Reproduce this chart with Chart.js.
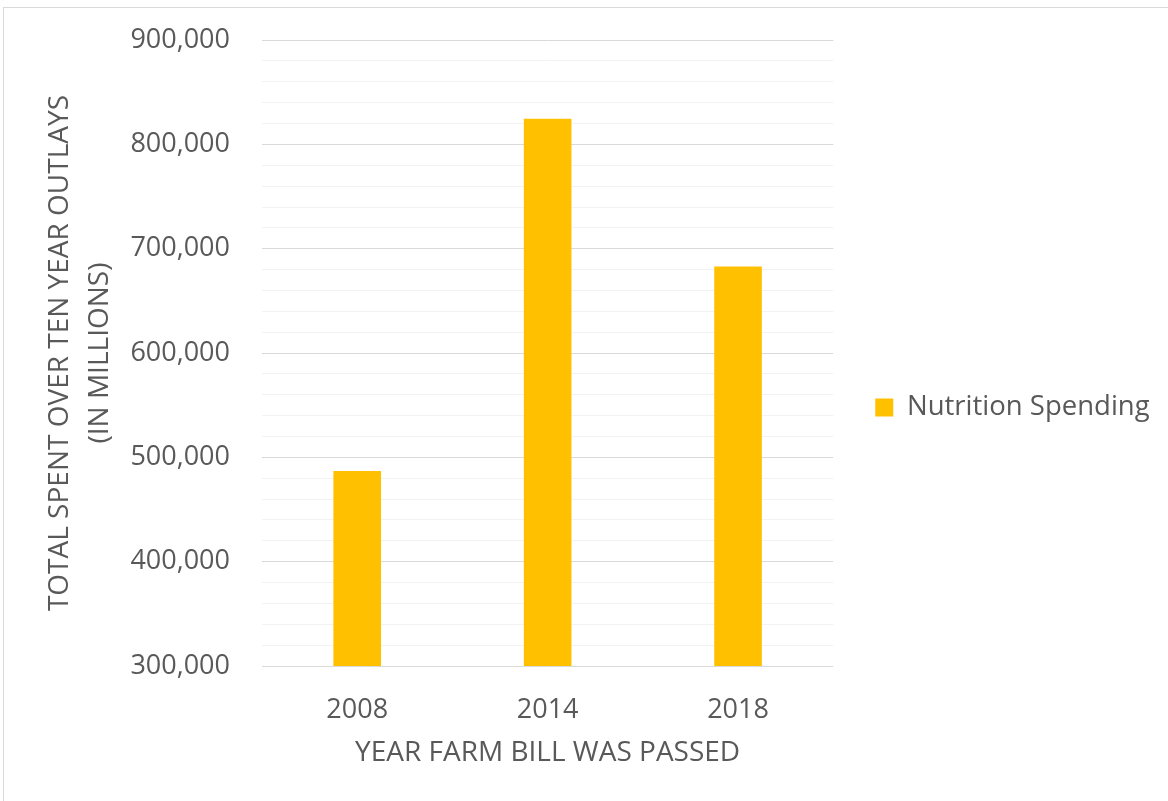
<!DOCTYPE html>
<html>
<head>
<meta charset="utf-8">
<script src="https://cdn.jsdelivr.net/npm/chart.js@4/dist/chart.umd.min.js"></script>
<style>
  html, body { margin: 0; padding: 0; background: #fff; overflow: hidden; }
  #frame { position: absolute; left: 3px; top: 7px; width: 1200px; height: 820px;
           border-top: 1px solid #d9d9d9; border-left: 1px solid #d9d9d9; }
  #wrap { position: absolute; left: 0; top: 0; width: 1168px; height: 801px; }
</style>
</head>
<body>
<div id="frame"></div>
<div id="wrap"><canvas id="myChart"></canvas></div>
<script>
const years = ['2008', '2014', '2018']
const nutritionSpending = [487000, 824500, 683000]
const yMin = 300000
const yMax = 900000
const minorStep = 20000
const majorStep = 100000

const textColor = '#595959'
const fontFamily = '"Open Sans", sans-serif'

// the right legend is capped in width, so push it over after layout
// to leave a wider gap between the plot and the legend entry
const legendOffset = {
  id: 'legendOffset',
  afterLayout(chart) {
    const legend = chart.legend
    if (!legend) return
    const dx = 38
    legend.left += dx
    legend.right += dx
    legend.top -= 2
    legend.bottom -= 2
  }
}

const ctx = document.getElementById('myChart').getContext('2d')
new Chart(ctx, {
  type: 'bar',
  data: {
    labels: years,
    datasets: [{
      label: 'Nutrition Spending',
      data: nutritionSpending,
      backgroundColor: '#ffc000',
      borderWidth: 0,
      barPercentage: 0.25,
      categoryPercentage: 1
    }]
  },
  options: {
    responsive: true,
    maintainAspectRatio: false,
    animation: false,
    events: [],
    layout: {
      padding: { top: 40, right: 57, bottom: 22, left: 0 }
    },
    scales: {
      x: {
        grid: { display: false },
        border: { display: false },
        ticks: {
          color: textColor,
          font: { family: fontFamily, size: 27 },
          padding: 20
        },
        title: {
          display: true,
          text: 'YEAR FARM BILL WAS PASSED',
          color: textColor,
          font: { family: fontFamily, size: 28 },
          padding: { top: 0, bottom: 9 }
        },
        afterFit: scale => { scale.height = 113 }
      },
      y: {
        min: yMin,
        max: yMax,
        border: { display: false },
        grid: {
          drawTicks: false,
          lineWidth: 1,
          color: c => (c.tick && c.tick.value % majorStep === 0) ? '#d9d9d9' : '#f2f2f2'
        },
        ticks: {
          stepSize: minorStep,
          autoSkip: false,
          color: textColor,
          font: { family: fontFamily, size: 27, lineHeight: 0.6 },
          padding: 32,
          callback: v => v % majorStep === 0 ? v.toLocaleString('en-US') : ''
        },
        title: {
          display: true,
          text: ['TOTAL SPENT OVER TEN YEAR OUTLAYS', '(IN MILLIONS)'],
          color: textColor,
          font: { family: fontFamily, size: 28, lineHeight: 1.43 },
          padding: { top: 40, bottom: 0 }
        },
        afterFit: scale => { scale.width = 262 }
      }
    },
    plugins: {
      legend: {
        position: 'right',
        labels: {
          color: textColor,
          font: { family: fontFamily, size: 27.5 },
          boxWidth: 18,
          boxHeight: 18,
          padding: 4
        }
      },
      tooltip: { enabled: false }
    }
  },
  plugins: [legendOffset]
})
</script>
</body>
</html>
